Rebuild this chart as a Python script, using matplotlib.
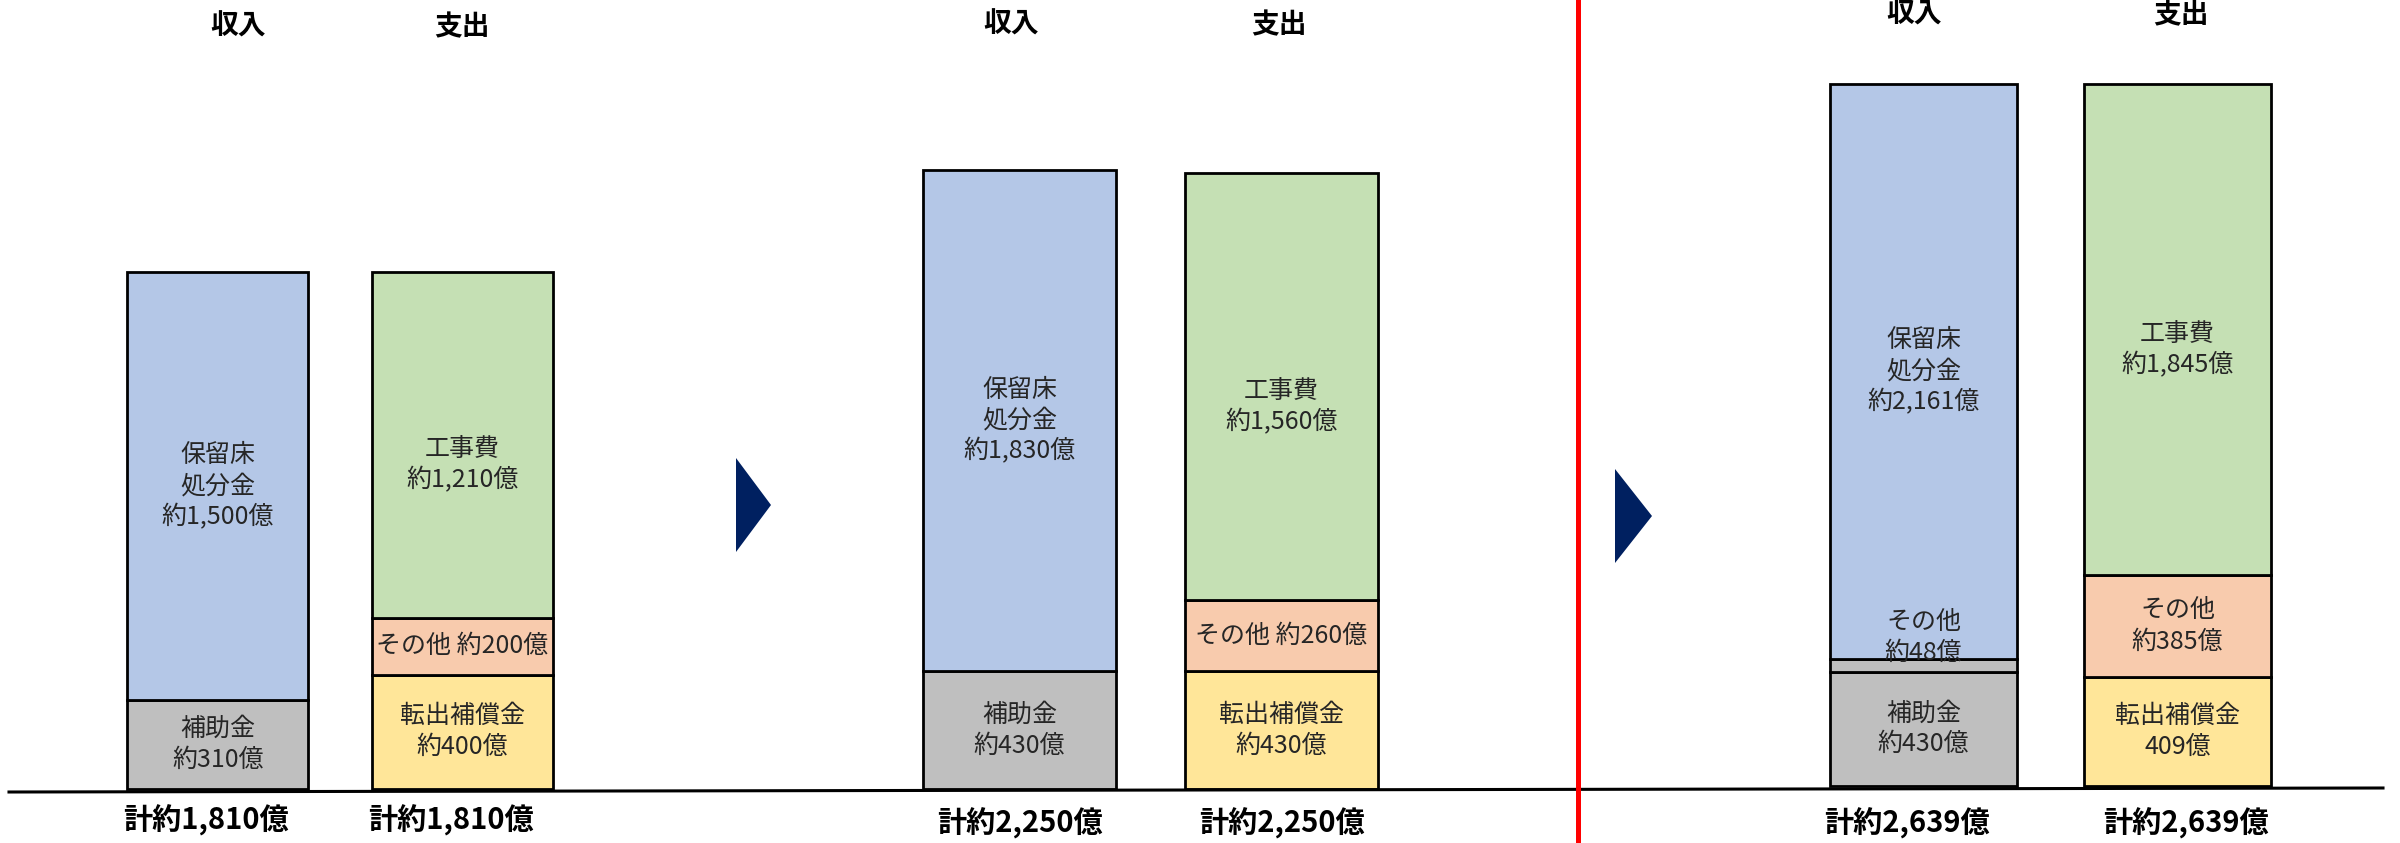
import numpy as np
import matplotlib
matplotlib.use("Agg")
import matplotlib.pyplot as plt
import matplotlib.transforms as mtransforms
from matplotlib.patches import Polygon
from matplotlib.lines import Line2D

plt.rcParams['font.family'] = ['Noto Sans CJK JP', 'DejaVu Sans']

# --- data (億円) ---
income_hojo = [310, 430, 430]
income_other = [0, 0, 48]
income_horyu = [1500, 1830, 2161]
spend_tenshutsu = [400, 430, 409]
spend_other = [200, 260, 385]
spend_koji = [1210, 1560, 1845]

income_hojo_txt = ['補助金\n約310億', '補助金\n約430億', '補助金\n約430億']
income_other_txt = [None, None, 'その他\n約48億']
income_horyu_txt = ['保留床\n処分金\n約1,500億', '保留床\n処分金\n約1,830億', '保留床\n処分金\n約2,161億']
spend_tenshutsu_txt = ['転出補償金\n約400億', '転出補償金\n約430億', '転出補償金\n409億']
spend_other_txt = ['その他 約200億', 'その他 約260億', 'その他\n約385億']
spend_koji_txt = ['工事費\n約1,210億', '工事費\n約1,560億', '工事費\n約1,845億']

headers = ['収入', '支出']
totals = ['計約1,810億', '計約2,250億', '計約2,639億']

c_gray = '#BFBFBF'
c_blue = '#B4C7E7'
c_green = '#C5E0B4'
c_peach = '#F8CBAD'
c_yellow = '#FFE699'

W, H = 2400, 843
fig = plt.figure(figsize=(W / 100, H / 100), dpi=100)


def px_rect(left, top, right, bottom):
    return [left / W, 1 - bottom / H, (right - left) / W, (bottom - top) / H]


# axes boxes in pixels: left, top, right, bottom
boxes = [(95.5, 272, 584.5, 789), (888.5, 170, 1412.5, 789), (1796.5, 84, 2304.5, 786)]
header_y = [27, 25, 15]
total_y = [820, 823, 823]
# small horizontal nudges (pixels) for header / total labels
header_dx = [(20, 0), (-8, -3), (-9, 3)]
total_dx = [(-12, -11), (0, 0), (-17, 8)]

bw = 0.74
for i, box in enumerate(boxes):
    ax = fig.add_axes(px_rect(*box))
    ax.set_xlim(-0.5, 1.5)
    inc = [income_hojo[i], income_other[i], income_horyu[i]]
    spd = [spend_tenshutsu[i], spend_other[i], spend_koji[i]]
    ax.set_ylim(0, max(sum(inc), sum(spd)))
    ax.axis('off')

    stacks = [
        (0, inc, [c_gray, c_gray, c_blue],
         [income_hojo_txt[i], income_other_txt[i], income_horyu_txt[i]], [0, 28, 0]),
        (1, spd, [c_yellow, c_peach, c_green],
         [spend_tenshutsu_txt[i], spend_other_txt[i], spend_koji_txt[i]], [0, 0, -20]),
    ]
    for x, vals, cols, txts, dys in stacks:
        bottom = 0
        for v, c, t, dy in zip(vals, cols, txts, dys):
            if v > 0:
                ax.bar(x, v, bottom=bottom, width=bw, color=c,
                       edgecolor='black', linewidth=2, clip_on=False)
                if t is not None:
                    ax.annotate(t, (x, bottom + v / 2), xytext=(0, dy),
                                textcoords='offset pixels', ha='center',
                                va='center', fontsize=18, color='#262626',
                                linespacing=1.25)
            bottom += v

    trans = mtransforms.blended_transform_factory(ax.transData, fig.transFigure)
    for k, (x, h) in enumerate(zip([0, 1], headers)):
        ax.annotate(h, (x, 1 - header_y[i] / H), xycoords=trans,
                    xytext=(header_dx[i][k], 0), textcoords='offset pixels',
                    ha='center', va='center', fontsize=20, fontweight='bold')
        ax.annotate(totals[i], (x, 1 - total_y[i] / H), xycoords=trans,
                    xytext=(total_dx[i][k], 0), textcoords='offset pixels',
                    ha='center', va='center', fontsize=21, fontweight='bold')

# baseline
fig.add_artist(Line2D([9 / W, 2383 / W], [1 - 792 / H, 1 - 788 / H],
                      transform=fig.transFigure, color='black', lw=2.2))
# red divider
fig.add_artist(Line2D([1578 / W, 1578 / W], [0, 1], transform=fig.transFigure,
                      color='#FF0000', lw=3.6))
# arrows
for x0, x1, ym, hh in [(736, 771, 505, 47), (1615, 1652, 516, 47)]:
    pts = [(x0 / W, 1 - (ym - hh) / H), (x1 / W, 1 - ym / H), (x0 / W, 1 - (ym + hh) / H)]
    fig.add_artist(Polygon(pts, closed=True, transform=fig.transFigure,
                           facecolor='#002060', edgecolor='none'))

fig.savefig('out.png', dpi=100, facecolor='white')
